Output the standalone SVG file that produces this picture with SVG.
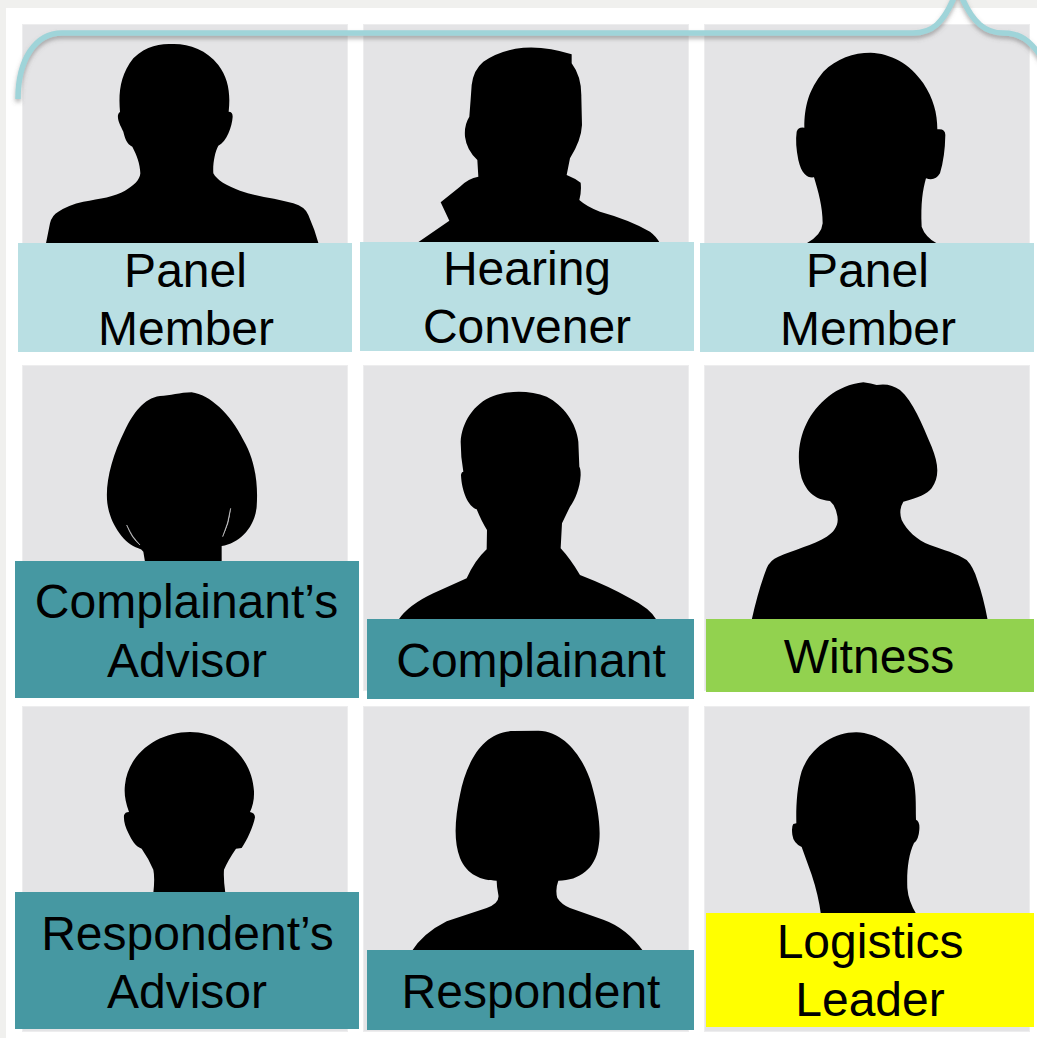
<svg xmlns="http://www.w3.org/2000/svg" width="1037" height="1038" viewBox="0 0 1037 1038">
<defs>
<filter id="sh" x="-5%" y="-20%" width="110%" height="150%"><feDropShadow dx="0" dy="3" stdDeviation="2" flood-color="#666" flood-opacity=".5"/></filter>
</defs>
<style>
.card{fill:#e4e4e6;stroke:#ededee;stroke-width:1}
.sil{fill:#000}
.sliver{fill:#e4e4e6;stroke:#e4e4e6;stroke-width:1.5}
.light{fill:#b9dfe3}
.teal{fill:#4698a2}
.green{fill:#92d24f}
.yellow{fill:#ffff00}
text{font-family:"Liberation Sans",Arial,sans-serif;font-size:48px;fill:#000;text-anchor:middle}
.brace{fill:none;stroke:#9fd4d9;stroke-width:5.5;filter:url(#sh)}
</style>
<rect width="1037" height="1038" fill="#fff"/>
<path d="M0 0H1037V8H6V1038H0Z" fill="#f0f0ee"/>
<g id="panel-member-1">
<rect class="card" x="22.5" y="24.5" width="325" height="325"/>
<path class="sil" transform="scale(.33333)" d="M137 735 L150 670 Q156 645 175 635 Q205 615 250 605 C300 596 345 590 375 572 C400 558 420 540 421 520 C420 490 410 465 397 440 C380 432 375 415 370 395 C360 375 352 360 354 345 Q356 337 360 336 C355 280 360 225 400 175 C440 135 480 132 522 132 C570 132 620 150 655 195 C685 235 692 280 686 335 Q698 335 698 350 C696 380 680 425 655 437 C645 455 638 490 640 520 C650 540 680 558 720 572 C770 590 830 595 880 610 Q915 620 925 645 Q945 690 957 735 Z"/>
<rect class="light" x="18" y="243" width="334" height="109"/>
<text x="185.500" y="287">Panel</text><text x="186" y="345">Member</text>
</g>
<g id="hearing-convener">
<rect class="card" x="363.500" y="24.5" width="325" height="325"/>
<path class="sil" transform="translate(350 0) scale(.33333)" d="M200 730 L298 662 L272 607 L330 560 Q355 535 385 530 L382 480 Q350 450 345 410 Q342 375 358 350 Q362 300 365 255 Q370 210 400 185 Q450 150 520 143 Q590 138 665 163 L665 190 Q695 230 694 290 L696 375 Q694 420 660 475 L650 525 Q675 535 692 548 Q695 575 688 600 Q710 620 750 635 Q840 660 900 695 Q920 710 930 730 Z"/>
<rect class="light" x="360" y="242" width="334" height="109"/>
<text x="527" y="285">Hearing</text><text x="527" y="343">Convener</text>
</g>
<g id="panel-member-2">
<rect class="card" x="704.500" y="24.5" width="325" height="325"/>
<path class="sil" transform="translate(680 0) scale(.33333)" d="M380 730 Q425 705 428 670 C428 620 415 575 402 532 C385 535 365 525 355 480 Q345 430 350 395 Q355 380 373 383 C373 320 385 270 430 215 C470 175 520 158 572 158 C630 160 690 190 730 250 C760 295 772 340 772 388 Q796 385 796 405 Q795 470 780 520 Q765 545 738 535 C728 570 722 610 725 680 Q735 710 770 730 Z"/>
<rect class="light" x="700" y="243" width="334" height="109"/>
<text x="867.500" y="287">Panel</text><text x="868" y="345">Member</text>
</g>
<g id="complainants-advisor">
<rect class="card" x="22.5" y="365.500" width="325" height="325"/>
<g transform="translate(0 360) scale(.33333)">
<path class="sil" d="M435 605 L430 575 Q425 568 415 565 C370 550 330 490 322 430 C315 370 335 290 375 210 C400 160 430 115 480 108 C510 108 540 97 575 97 C630 105 690 160 730 240 C765 300 775 370 770 440 C765 500 720 550 665 558 L665 605 Z"/>
<path class="sliver" d="M380 495 Q395 530 420 555 Q395 535 380 495Z"/>
<path class="sliver" d="M692 445 Q688 490 668 530 Q685 490 692 445Z"/>
</g>
<rect class="teal" x="15" y="561" width="344" height="137"/>
<text x="186.500" y="618">Complainant’s</text><text x="187" y="677">Advisor</text>
</g>
<g id="complainant">
<rect class="card" x="363.500" y="365.500" width="325" height="325"/>
<path class="sil" transform="translate(350 360) scale(.33333)" d="M145 780 Q175 735 250 700 L350 655 Q375 600 410 568 L411 510 Q395 485 380 448 C355 440 335 395 333 345 Q335 335 340 335 Q332 290 332 245 C335 190 370 130 430 108 C470 92 540 90 590 110 C640 135 680 190 685 245 L688 320 Q692 325 692 345 C690 385 675 420 660 440 L636 490 L632 565 Q660 595 690 645 Q780 680 840 715 Q900 745 920 780 Z"/>
<rect class="teal" x="367" y="619" width="327" height="80"/>
<text x="531" y="677">Complainant</text>
</g>
<g id="witness">
<rect class="card" x="704.500" y="365.500" width="325" height="325"/>
<path class="sil" transform="translate(690 360) scale(.33333)" d="M185 780 Q205 690 230 625 Q240 600 265 590 C310 570 370 555 410 530 C435 515 450 490 440 460 Q435 435 420 423 C390 420 355 410 335 355 C320 300 325 240 350 190 C380 130 440 75 520 67 Q545 70 560 75 Q600 68 630 90 C670 125 695 190 725 260 C745 310 750 350 725 385 Q705 410 640 425 Q625 450 635 480 C650 510 680 540 720 555 C760 570 800 580 830 600 Q850 620 862 660 Q880 710 893 780 Z"/>
<rect class="green" x="706" y="619" width="328" height="73"/>
<text x="869" y="673">Witness</text>
</g>
<g id="respondents-advisor">
<rect class="card" x="22.5" y="706.500" width="325" height="325"/>
<path class="sil" transform="translate(0 698) scale(.33333)" d="M460 585 Q465 540 460 515 Q445 480 425 452 C405 445 395 425 385 405 Q370 375 372 352 Q375 342 387 342 C375 310 372 285 375 260 C385 165 475 102 570 102 C665 102 755 170 762 280 C763 305 758 325 750 342 Q765 345 765 358 C760 385 740 430 725 450 L708 452 Q685 485 672 515 Q670 545 676 585 Z"/>
<rect class="teal" x="15" y="892" width="344" height="137"/>
<text x="187.500" y="950">Respondent’s</text><text x="187" y="1008">Advisor</text>
</g>
<g id="respondent">
<rect class="card" x="363.500" y="706.500" width="325" height="325"/>
<path class="sil" transform="translate(350 698) scale(.33333)" d="M185 760 Q220 705 290 670 L410 630 Q450 615 445 590 Q440 565 440 548 C395 548 350 530 330 480 C310 430 315 360 330 290 C345 210 390 100 490 99 L565 98 C650 100 705 190 725 260 C745 330 755 400 745 450 C735 510 690 548 625 548 Q615 575 622 600 Q635 620 660 630 L760 665 Q830 690 880 760 Z"/>
<rect class="teal" x="367" y="950" width="327" height="80"/>
<text x="531" y="1008">Respondent</text>
</g>
<g id="logistics-leader">
<rect class="card" x="704.500" y="706.500" width="325" height="325"/>
<path class="sil" transform="translate(690 698) scale(.33333)" d="M393 650 Q385 590 365 530 L335 447 Q310 435 307 410 Q304 385 310 378 L319 376 C318 330 320 270 335 220 C360 150 430 102 500 103 C570 105 640 160 665 225 C680 270 677 320 678 365 Q690 370 688 395 Q686 425 672 435 C655 470 650 520 652 570 Q655 610 680 650 Z"/>
<rect class="yellow" x="706" y="913" width="328" height="114"/>
<text x="870" y="958">Logistics</text><text x="870" y="1016">Leader</text>
</g>
<g id="connectors">
<path class="brace" d="M18 99 C18 60 35 33 62 33 H913 C933 33 943 22 953 0 L958 -14 L963 0 C973 22 985 33 1003 33 C1020 33 1030 40 1042 58"/>
</g>
</svg>
